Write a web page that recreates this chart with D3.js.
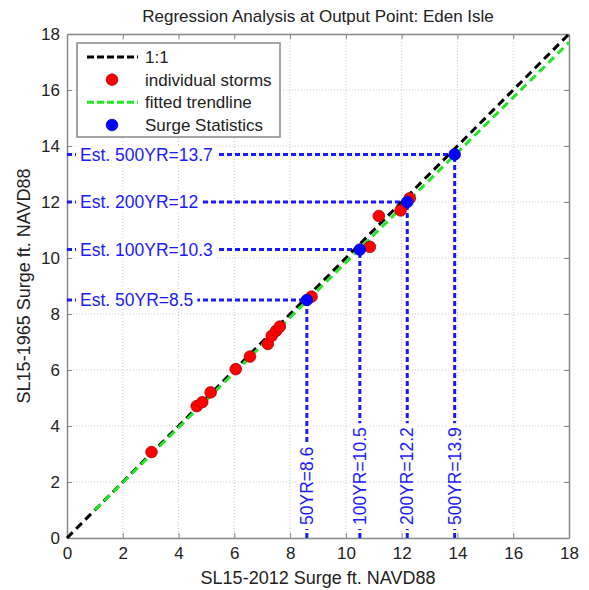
<!DOCTYPE html>
<html><head><meta charset="utf-8">
<script src="https://cdn.jsdelivr.net/npm/d3@7"></script>
<style>body{margin:0;background:#fff;} text{font-family:"Liberation Sans",Arial,sans-serif;}</style>
</head><body><svg id="c" width="589" height="590"></svg>
<script>
const title = "Regression Analysis at Output Point: Eden Isle";
const xLabel = "SL15-2012 Surge ft. NAVD88";
const yLabel = "SL15-1965 Surge ft. NAVD88";
const ticks = [0,2,4,6,8,10,12,14,16,18];
const stormX = [3.03,4.65,4.85,5.15,6.05,6.56,7.2,7.34,7.5,7.63,8.77,10.86,11.18,11.96,12.29];
const stormY = [3.07,4.71,4.85,5.2,6.03,6.48,6.93,7.22,7.4,7.55,8.62,10.4,11.5,11.7,12.13];
const statX = [8.6,10.5,12.2,13.9];
const statY = [8.5,10.3,12.0,13.7];
const statRP = ["50YR","100YR","200YR","500YR"];
const statXText = ["8.6","10.5","12.2","13.9"];
const statYText = ["8.5","10.3","12","13.7"];
const trendX = [1.0,18];
const trendY = [1.0,17.7];
const legendItems = ["1:1","individual storms","fitted trendline","Surge Statistics"];

const svg = d3.select("#c");
const L=67,R=569,T=34,B=538;
const x = d3.scaleLinear().domain([0,18]).range([L,R]);
const y = d3.scaleLinear().domain([0,18]).range([B,T]);
const blue = "#1a1aff";

// grid
const g = svg.append("g");
g.selectAll(".gx").data(ticks.slice(1,-1)).join("line")
  .attr("x1",d=>x(d)).attr("x2",d=>x(d)).attr("y1",B).attr("y2",T)
  .attr("stroke","#c8c8c8").attr("stroke-dasharray","1,2").attr("stroke-width",1);
g.selectAll(".gy").data(ticks.slice(1,-1)).join("line")
  .attr("y1",d=>y(d)).attr("y2",d=>y(d)).attr("x1",L).attr("x2",R)
  .attr("stroke","#c8c8c8").attr("stroke-dasharray","1,2").attr("stroke-width",1);

// axes
const ax = svg.append("g").attr("transform",`translate(0,${B})`)
  .call(d3.axisBottom(x).tickValues(ticks).tickSize(-5).tickPadding(9).tickSizeOuter(0));
const ay = svg.append("g").attr("transform",`translate(${L},0)`)
  .call(d3.axisLeft(y).tickValues(ticks).tickSize(-5).tickPadding(7).tickSizeOuter(0));
const axT = svg.append("g").attr("transform",`translate(0,${T})`)
  .call(d3.axisTop(x).tickValues(ticks).tickSize(-5).tickFormat("").tickSizeOuter(0));
const ayR = svg.append("g").attr("transform",`translate(${R},0)`)
  .call(d3.axisRight(y).tickValues(ticks).tickSize(-5).tickFormat("").tickSizeOuter(0));
[ax,ay,axT,ayR].forEach(a=>{
  a.selectAll("path").attr("stroke","#888").attr("stroke-width",1.5);
  a.selectAll("line").attr("stroke","#888");
  a.selectAll("text").attr("font-size",17).attr("fill","#222").attr("font-family","Liberation Sans, Arial, sans-serif");
});

// blue stat dashed lines
const sg = svg.append("g");
statX.forEach((sx,i)=>{
  sg.append("line").attr("x1",x(0)).attr("x2",x(sx)).attr("y1",y(statY[i])).attr("y2",y(statY[i]))
    .attr("stroke",blue).attr("stroke-width",3).attr("stroke-dasharray","5,3");
  sg.append("line").attr("x1",x(sx)).attr("x2",x(sx)).attr("y1",y(0)).attr("y2",y(statY[i]))
    .attr("stroke",blue).attr("stroke-width",3).attr("stroke-dasharray","5,3");
});

// 1:1 line and trend
svg.append("line").attr("x1",x(0)).attr("y1",y(0)).attr("x2",x(18)).attr("y2",y(18))
  .attr("stroke","#000").attr("stroke-width",3).attr("stroke-dasharray","8,5");
svg.append("line").attr("x1",x(trendX[0])).attr("y1",y(trendY[0])).attr("x2",x(trendX[1])).attr("y2",y(trendY[1]))
  .attr("stroke","#22e622").attr("stroke-width",3).attr("stroke-dasharray","8,5");

// points
svg.append("g").selectAll("circle").data(stormX).join("circle")
  .attr("cx",d=>x(d)).attr("cy",(d,i)=>y(stormY[i])).attr("r",5.8)
  .attr("fill","#f00").attr("stroke","#a00").attr("stroke-width",0.8);
svg.append("g").selectAll("circle").data(statX).join("circle")
  .attr("cx",d=>x(d)).attr("cy",(d,i)=>y(statY[i])).attr("r",5.8)
  .attr("fill","#00f").attr("stroke","#00c").attr("stroke-width",0.8);

// labels with white background
function labelWithBg(tx,ty,str,rot){
  const gg = svg.append("g").attr("transform",`translate(${tx},${ty}) rotate(${rot})`);
  const rect = gg.append("rect").attr("fill","#fff");
  const t = gg.append("text").attr("x",0).attr("y",0).attr("dy","0.35em")
    .attr("font-size",17.5).attr("fill",blue).text(str);
  const bb = t.node().getBBox();
  rect.attr("x",bb.x-4).attr("y",bb.y+1).attr("width",bb.width+8).attr("height",bb.height-2);
}
statX.forEach((sx,i)=>{
  labelWithBg(x(0)+13, y(statY[i]), `Est. ${statRP[i]}=${statYText[i]}`, 0);
  labelWithBg(x(sx), y(0)-13, `${statRP[i]}=${statXText[i]}`, -90);
});

// title and axis labels
svg.append("text").attr("x",318).attr("y",22).attr("text-anchor","middle").attr("font-size",17).attr("fill","#222").text(title);
svg.append("text").attr("x",318).attr("y",584).attr("text-anchor","middle").attr("font-size",18).attr("fill","#222").text(xLabel);
svg.append("text").attr("transform","translate(30,286) rotate(-90)").attr("text-anchor","middle").attr("font-size",18).attr("fill","#222").text(yLabel);

// legend
const lg = svg.append("g");
lg.append("rect").attr("x",77).attr("y",43).attr("width",203).attr("height",94)
  .attr("fill","#fff").attr("stroke","#888").attr("stroke-width",1.5);
const ly = d3.scalePoint().domain(legendItems).range([57,125]);
legendItems.forEach((name,i)=>{
  const yy = ly(name);
  if(i===0||i===2){
    lg.append("line").attr("x1",87).attr("x2",138).attr("y1",yy).attr("y2",yy)
      .attr("stroke",i===0?"#000":"#22e622").attr("stroke-width",3).attr("stroke-dasharray","7,3");
  } else {
    lg.append("circle").attr("cx",112).attr("cy",yy).attr("r",5.8)
      .attr("fill",i===1?"#f00":"#00f").attr("stroke",i===1?"#a00":"#00c").attr("stroke-width",0.8);
  }
  lg.append("text").attr("x",145).attr("y",yy).attr("dy","0.35em").attr("font-size",17).attr("fill","#222").text(name);
});
</script></body></html>
